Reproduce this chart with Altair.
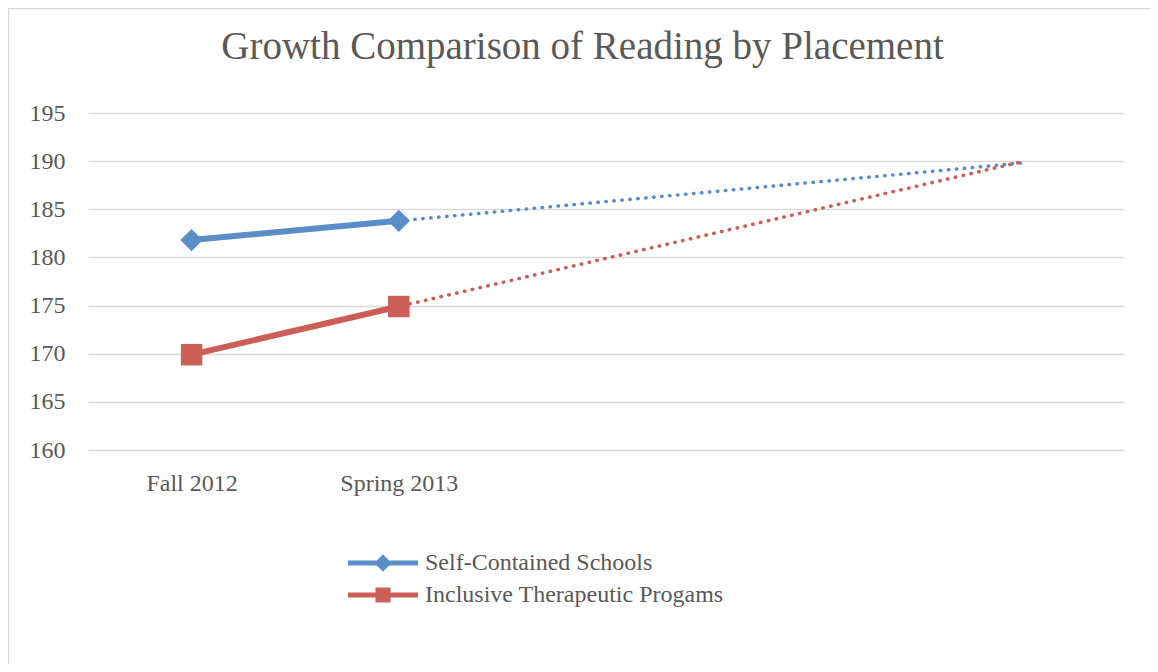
import altair as alt
import pandas as pd

# ---- data ----
title_text = "Growth Comparison of Reading by Placement"
categories = ["Fall 2012", "Spring 2013"]
series_names = ["Self-Contained Schools", "Inclusive Therapeutic Progams"]
self_contained = [181.8, 183.8]
inclusive = [169.9, 174.9]
# Excel linear trendlines (forecast forward), start / end points
trend_idx = [0, 4]
trend_self = [181.8, 189.8]
trend_incl = [169.9, 189.9]
y_ticks = [160, 165, 170, 175, 180, 185, 190, 195]

BLUE = "#5B8EC9"
RED = "#CB5F58"
GRID = "#D9D9D9"
TEXT = "#595959"
FONT = "Liberation Serif"

rows = []
for i, c in enumerate(categories):
    rows.append({"idx": i, "cat": c, "series": series_names[0], "value": self_contained[i]})
    rows.append({"idx": i, "cat": c, "series": series_names[1], "value": inclusive[i]})
df = pd.DataFrame(rows)

trows = []
for j, t in enumerate(trend_idx):
    trows.append({"idx": t, "series": series_names[0], "value": trend_self[j]})
    trows.append({"idx": t, "series": series_names[1], "value": trend_incl[j]})
tdf = pd.DataFrame(trows)

label_expr = "[" + ",".join("'%s'" % c for c in categories) + "][datum.value]"

x_enc = alt.X(
    "idx:Q",
    scale=alt.Scale(domain=[-0.5, 4.5], nice=False, zero=False),
    axis=alt.Axis(
        values=list(range(len(categories))),
        labelExpr=label_expr,
        title=None,
        grid=False,
        domain=False,
        ticks=False,
        tickSize=0,
        labelFont=FONT,
        labelFontSize=24,
        labelColor=TEXT,
        labelPadding=21,
    ),
)
y_enc = alt.Y(
    "value:Q",
    scale=alt.Scale(domain=[160, 195], nice=False, zero=False),
    axis=alt.Axis(
        values=y_ticks,
        title=None,
        grid=True,
        gridColor=GRID,
        gridWidth=1.5,
        domain=False,
        ticks=False,
        tickSize=0,
        labelFont=FONT,
        labelFontSize=24,
        labelColor=TEXT,
        labelPadding=23,
    ),
)
color_scale = alt.Scale(domain=series_names, range=[BLUE, RED])

series_layers = []
for name, col, shp, sz in [
    (series_names[0], BLUE, "diamond", 500),
    (series_names[1], RED, "square", 462),
]:
    tr = alt.Chart(tdf[tdf.series == name]).mark_line(
        color=col, strokeWidth=3.5, strokeDash=[0.5, 7.5], strokeCap="round"
    ).encode(x=x_enc, y=y_enc)
    ln = alt.Chart(df[df.series == name]).mark_line(
        color=col, strokeWidth=6, strokeCap="round"
    ).encode(x=x_enc, y=y_enc)
    pt = alt.Chart(df[df.series == name]).mark_point(
        shape=shp, size=sz, filled=True, opacity=1, strokeWidth=0, color=col
    ).encode(x=x_enc, y=y_enc)
    series_layers += [tr, ln, pt]

# legend-only layer: line + marker symbols
sym_diamond = "M-2.5,-0.18H2.5V0.18H-2.5Z M0,-0.62L0.62,0L0,0.62L-0.62,0Z"
sym_square = "M-2.5,-0.18H2.5V0.18H-2.5Z M-0.54,-0.54H0.54V0.54H-0.54Z"
leg = alt.Legend(
    title=None,
    orient="none",
    legendX=281,
    legendY=436,
    direction="vertical",
    symbolSize=784,
    symbolStrokeWidth=0,
    symbolOpacity=1,
    labelFont=FONT,
    labelFontSize=24,
    labelColor=TEXT,
    labelOffset=28,
    labelLimit=500,
    rowPadding=6,
    padding=0,
)
legend_layer = alt.Chart(df[df.idx == 0]).mark_point(filled=True, opacity=0, size=10).encode(
    x=x_enc, y=y_enc,
    color=alt.Color("series:N", scale=color_scale, legend=leg),
    shape=alt.Shape("series:N", scale=alt.Scale(domain=series_names, range=[sym_diamond, sym_square]), legend=leg),
)

# title as text
title_layer = alt.Chart(pd.DataFrame({"t": [title_text]})).mark_text(
    font=FONT, fontSize=39, color=TEXT, align="center", baseline="alphabetic"
).encode(text="t:N", x=alt.value(494.5), y=alt.value(-54))

# chart frame (top and left edges)
frame_top = alt.Chart(pd.DataFrame({"a": [0]})).mark_rule(color=GRID, strokeWidth=1.5).encode(
    x=alt.value(-80), x2=alt.value(1062), y=alt.value(-104.5)
)
frame_left = alt.Chart(pd.DataFrame({"a": [0]})).mark_rule(color=GRID, strokeWidth=1.5).encode(
    x=alt.value(-79.5), y=alt.value(-105), y2=alt.value(551)
)

chart = alt.layer(
    frame_top, frame_left, title_layer, *series_layers, legend_layer
).properties(
    width=1036,
    height=337,
    autosize=alt.AutoSizeParams(type="none"),
    padding={"left": 80, "top": 105, "right": 26, "bottom": 214},
).configure(background="white", view=alt.ViewConfig(stroke=None))

chart.save("out.html", embed_options={"renderer": "svg", "actions": False})
